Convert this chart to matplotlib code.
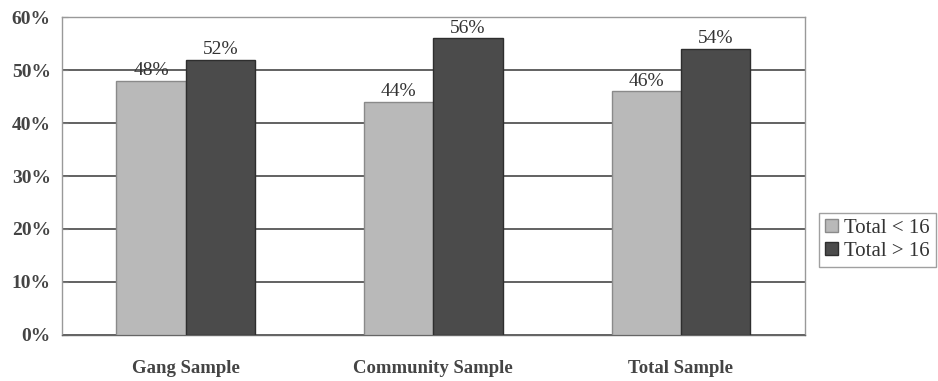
import matplotlib.pyplot as plt
import numpy as np

plt.rcParams['font.family'] = ['Liberation Serif', 'DejaVu Serif']

# sample groups and share of respondents in each age band
groups = ['Gang Sample', 'Community Sample', 'Total Sample']
under_16 = [48, 44, 46]
over_16 = [52, 56, 54]
series_names = ['Total < 16', 'Total > 16']

fig = plt.figure(figsize=(9.38, 3.81), dpi=100)
ax = fig.add_axes([0.066, 0.121, 0.792, 0.834])

x = np.arange(len(groups))
w = 0.28
b1 = ax.bar(x - w / 2, under_16, w, color='#b9b9b9', edgecolor='#8a8a8a',
            linewidth=1, label=series_names[0], zorder=3)
b2 = ax.bar(x + w / 2, over_16, w, color='#4b4b4b', edgecolor='#2e2e2e',
            linewidth=1, label=series_names[1], zorder=3)

for bars, vals in ((b1, under_16), (b2, over_16)):
    for bar, v in zip(bars, vals):
        ax.text(bar.get_x() + bar.get_width() / 2, v + 0.3, f'{v}%',
                ha='center', va='bottom', fontsize=14, color='#333333', zorder=4)

ax.set_xlim(-0.5, 2.5)
ax.set_ylim(0, 60)
ax.set_yticks(range(0, 61, 10))
ax.set_yticklabels([f'{t}%' for t in range(0, 61, 10)], fontsize=14,
                   color='#444444', fontweight='bold')
ax.set_xticks(x)
ax.set_xticklabels(groups, fontsize=13.5, color='#444444', fontweight='bold')
ax.tick_params(axis='x', length=0, pad=18)
ax.tick_params(axis='y', length=4, color='#777777', direction='in', pad=8)

ax.yaxis.grid(True, color='#555555', linewidth=1.3, zorder=0)
for s in ax.spines.values():
    s.set_color('#999999')
    s.set_linewidth(1)
ax.spines['bottom'].set_color('#666666')

fig.legend(handles=[b1, b2], loc='center left', bbox_to_anchor=(0.862, 0.37),
           fontsize=15, frameon=True, edgecolor='#888888', fancybox=False,
           handlelength=0.6, handleheight=0.6, handletextpad=0.3,
           borderpad=0.3, labelspacing=0.2, labelcolor='#333333')

fig.savefig('out.png', dpi=100, facecolor='white')
